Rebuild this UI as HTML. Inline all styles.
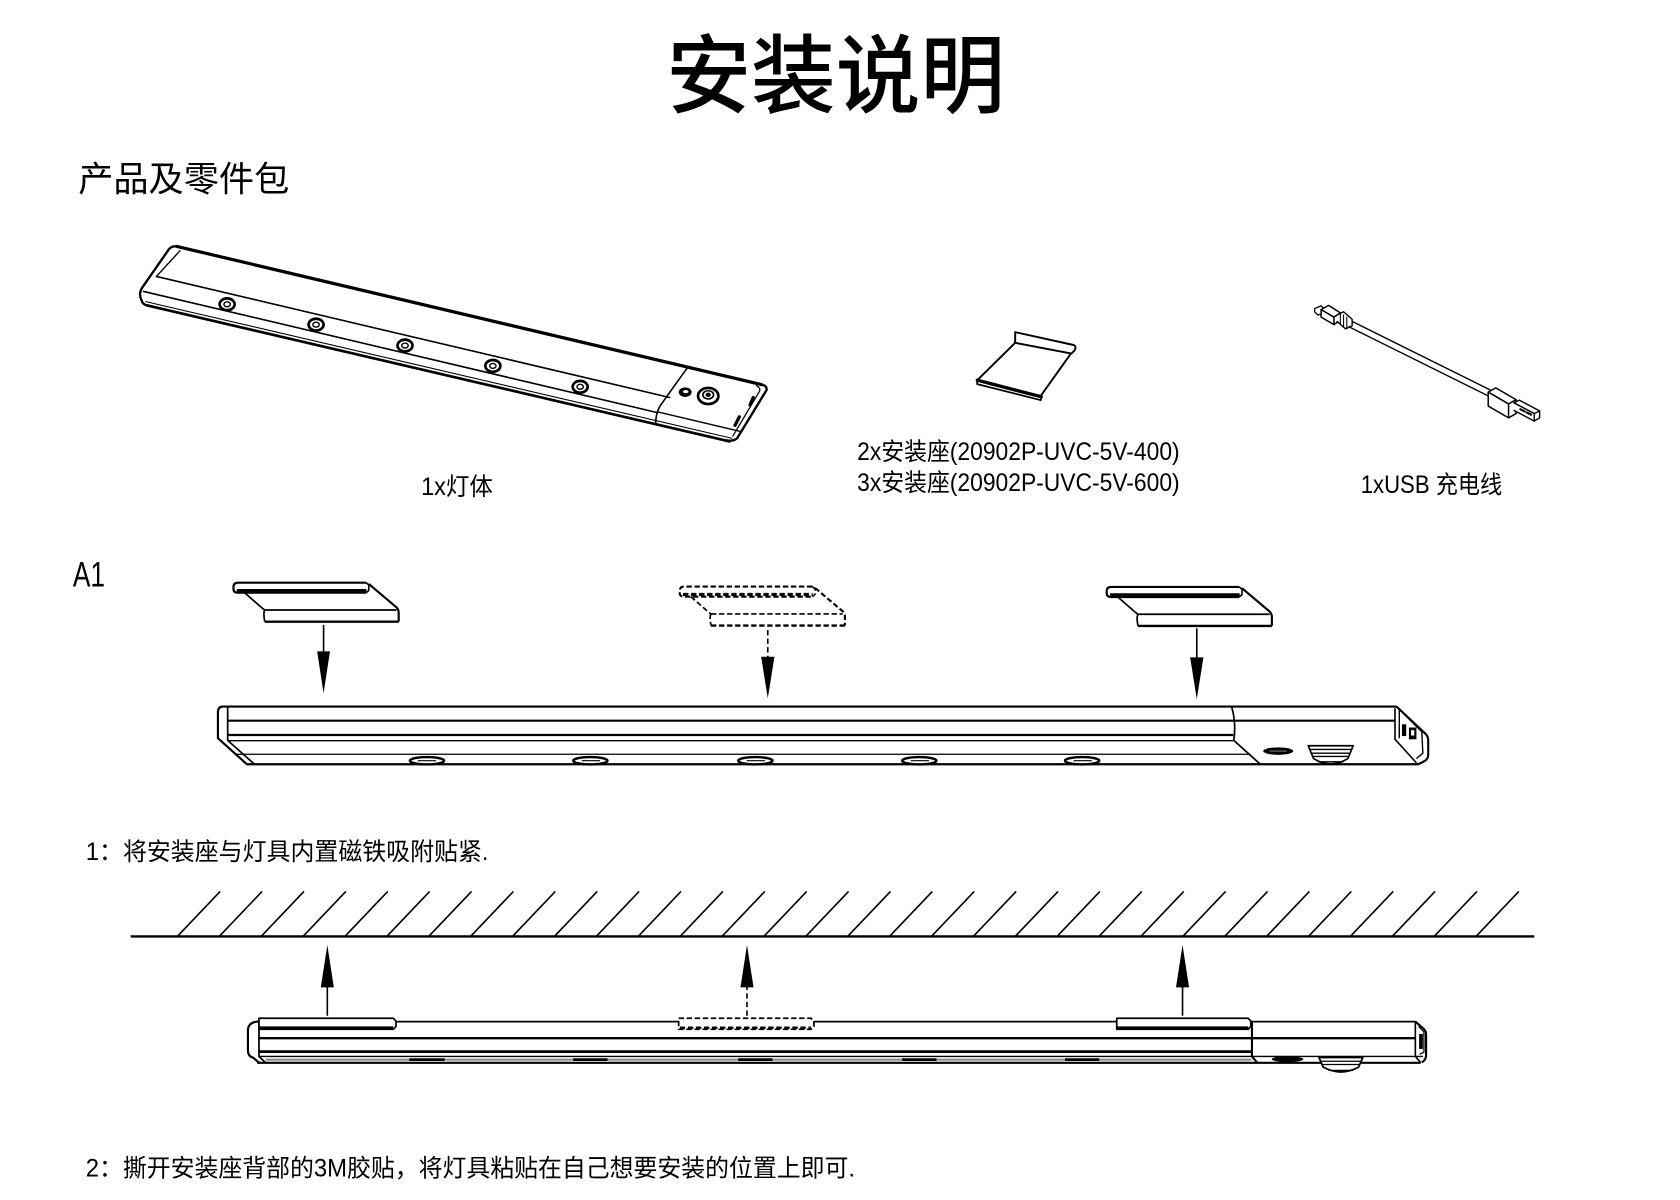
<!DOCTYPE html>
<html><head><meta charset="utf-8"><style>
html,body{margin:0;padding:0;background:#fff;}
svg{display:block;}
text{font-family:"Liberation Sans","Noto Sans CJK SC",sans-serif;fill:#000;}
</style></head><body>
<svg width="1680" height="1200" viewBox="0 0 1568 1120" xmlns="http://www.w3.org/2000/svg">
<rect width="1568" height="1120" fill="#fff"/>

<!-- Titles -->
<text x="622" y="99" font-size="80" font-weight="500" textLength="316" lengthAdjust="spacingAndGlyphs">安装说明</text>
<text x="73" y="178.5" font-size="33" textLength="197" lengthAdjust="spacingAndGlyphs">产品及零件包</text>

<g fill="none" stroke="#000" stroke-linecap="round" stroke-linejoin="round">
<!-- Product bar (diagonal) -->
<path d="M165,230 L711,359" stroke-width="3"/>
<path d="M165,230 Q159,229 156,235 L133,268 Q129,274 132,280 Q133,284 137,285" stroke-width="2.2"/>
<path d="M168,234 L146,258" stroke-width="1.3"/>
<path d="M137,285 L681,412" stroke-width="2.5"/>
<path d="M136,281.5 L683,409" stroke-width="1"/>
<path d="M711,359 Q716,360 715.5,364 L688,409 Q685,412 679,411" stroke-width="2.2"/>
<path d="M706,360 Q710,362 709,365 L684,407" stroke-width="1.2"/>
<path d="M146,258 L625,371" stroke-width="1.5"/>
<path d="M134,272 L613,385" stroke-width="1.5"/>
<path d="M641,344 Q628,362 616,379 Q612,386 612,395" stroke-width="1.5"/>
<path d="M614,384.5 L691,402.7" stroke-width="1.3"/>
<g stroke-width="2.5">
<ellipse cx="212" cy="284" rx="7" ry="5.5"/>
<ellipse cx="295" cy="303" rx="7" ry="5.5"/>
<ellipse cx="378" cy="322.5" rx="7" ry="5.5"/>
<ellipse cx="460" cy="341.5" rx="7" ry="5.5"/>
<ellipse cx="541.5" cy="361" rx="7" ry="5.5"/>
</g>
<g stroke-width="1.3">
<ellipse cx="212" cy="284" rx="3" ry="2.3"/>
<ellipse cx="295" cy="303" rx="3" ry="2.3"/>
<ellipse cx="378" cy="322.5" rx="3" ry="2.3"/>
<ellipse cx="460" cy="341.5" rx="3" ry="2.3"/>
<ellipse cx="541.5" cy="361" rx="3" ry="2.3"/>
</g>
<ellipse cx="639.5" cy="366" rx="5.5" ry="4" fill="#000"/>
<ellipse cx="640" cy="365.5" rx="2.5" ry="1.5" fill="#fff" stroke="none"/>
<ellipse cx="661" cy="369.6" rx="9.5" ry="7.5" stroke-width="2.5"/>
<ellipse cx="661" cy="368.5" rx="5" ry="3.8" stroke-width="1.5"/>
<ellipse cx="661" cy="368.5" rx="2" ry="1.5" fill="#000"/>
<path d="M703,371 L700,378" stroke-width="3"/>
<path d="M690,389 L686,397" stroke-width="3"/>

<!-- Mounting bracket product -->
<path d="M947.5,310 L1002,322 Q1005,323 1003,327 L1000,330 L947.5,320 Z" stroke-width="1.8" fill="#fff"/>
<path d="M947.5,320 L912,355" stroke-width="1.8"/>
<path d="M999.5,330 L971,370" stroke-width="1.8"/>
<path d="M912,354 L972,369.5 L971.5,373.5 L912,358.5 Z" stroke-width="1.6" fill="#fff"/>
<path d="M912,355 L972,370.5" stroke-width="2.8"/>

<!-- USB cable -->
<path d="M1227,288 L1233,285.5 L1236,288 L1236,292 L1230,294 L1227,291 Z" stroke-width="1.2" fill="#fff"/>
<path d="M1233,289 L1240,285 L1251,292 L1245,296 Z" stroke-width="1.4" fill="#fff"/>
<path d="M1233,289 L1245,296 L1245,303 L1233,296 Z" stroke-width="1.4" fill="#fff"/>
<path d="M1251,292 L1251,299 L1245,303" stroke-width="1.4"/>
<path d="M1248,294 L1254,291 L1262,298 L1262,304 L1256,307 L1248,300" stroke-width="1.3" fill="#fff"/>
<path d="M1251,293 L1251,302 M1254,294 L1254,304 M1257,296 L1257,306" stroke-width="1"/>
<path d="M1262,300 L1391,364" stroke-width="1.3"/>
<path d="M1259,305 L1389,369.5" stroke-width="1.3"/>
<path d="M1389,366 L1396,362 L1415,373 L1408,377 Z" stroke-width="1.4" fill="#fff"/>
<path d="M1389,366 L1408,377 L1408,390 L1389,379 Z" stroke-width="1.4" fill="#fff"/>
<path d="M1415,373 L1415,386 L1408,390" stroke-width="1.4"/>
<path d="M1413,376 L1418,373.5 L1437,383.5 L1432,386 Z" stroke-width="1.3" fill="#fff"/>
<path d="M1413,376 L1432,386 L1432,393 L1413,383" stroke-width="1.3" fill="#fff"/>
<path d="M1437,383.5 L1437,390 L1432,393" stroke-width="1.3"/>
<path d="M1419,382 L1423,384 M1425,385 L1429,387" stroke-width="2"/>
</g>

<text x="393" y="462" font-size="23" textLength="67" lengthAdjust="spacingAndGlyphs">1x灯体</text>
<text x="800" y="429.5" font-size="23" textLength="301" lengthAdjust="spacingAndGlyphs">2x安装座(20902P-UVC-5V-400)</text>
<text x="800" y="458.5" font-size="23" textLength="301" lengthAdjust="spacingAndGlyphs">3x安装座(20902P-UVC-5V-600)</text>
<text x="1270" y="460" font-size="23" textLength="132" lengthAdjust="spacingAndGlyphs">1xUSB 充电线</text>

<text x="68" y="547.5" font-size="33" textLength="30" lengthAdjust="spacingAndGlyphs">A1</text>

<!-- A1 diagram -->
<defs>
<g id="brk">
<path d="M341.7,543.8 L222,543.8 Q217.9,543.8 217.9,548 L217.9,549.5 Q217.9,553.2 222,553.2 L341.7,553.2" stroke-width="2"/>
<path d="M221,551.2 L342,551.2" stroke-width="3"/>
<path d="M341.7,543.8 L344.2,546 L344.2,551 L341.7,553.2" stroke-width="1.5"/>
<path d="M344.2,545 L370,566.8 Q372.1,569 372.1,572 L372.1,580.2" stroke-width="2"/>
<path d="M247.1,569.3 L370,569.3" stroke-width="1.6"/>
<path d="M247.1,580.2 L372.1,580.2" stroke-width="2.2"/>
<path d="M247.1,569.3 Q245.5,572 247.1,580.2" stroke-width="1.6"/>
<path d="M228.3,553.2 L245,567.8 Q247,569 247.1,570" stroke-width="1.6"/>
</g>
</defs>
<g fill="none" stroke="#000" stroke-linecap="butt" stroke-linejoin="round">
<use href="#brk"/>
<use href="#brk" transform="translate(815,4)"/>
<use href="#brk" transform="translate(416.5,3.7)" stroke-dasharray="5,2.5"/>

<!-- arrows A1 -->
<path d="M302,583.3 L302,610" stroke-width="1.5"/>
<path d="M296,608 L308,608 L302,647 Z" fill="#000" stroke="none"/>
<path d="M716.6,588 L716.6,614" stroke-width="1.5" stroke-dasharray="5,3"/>
<path d="M710.4,613 L722.8,613 L716.6,651.7 Z" fill="#000" stroke="none"/>
<path d="M1117,586.4 L1117,615" stroke-width="1.5"/>
<path d="M1110.8,613.5 L1123.2,613.5 L1117,652.5 Z" fill="#000" stroke="none"/>

<!-- bar A1 -->
<path d="M207,659.5 L1303.5,659.5" stroke-width="2"/>
<path d="M208,659.5 Q203.4,659.5 203.4,665 L203.4,689 L230.4,713.3" stroke-width="2"/>
<path d="M212.5,659.5 L212.5,691 L237.5,713.3" stroke-width="1.6"/>
<path d="M230,713.3 L1324,713.3" stroke-width="2"/>
<path d="M212.5,672.6 L1302,672.6" stroke-width="2"/>
<path d="M212.5,686 L1151,686" stroke-width="2"/>
<path d="M212.5,691.3 L1151,691.3" stroke-width="1.2"/>
<path d="M220,704 L1167,704" stroke-width="1.2"/>
<path d="M1149.5,659.5 Q1154,675 1151.5,691 L1176,713" stroke-width="1.6"/>
<path d="M1303.5,659.5 L1330,684.4 Q1333,687 1333,691 L1333,704.7 Q1333,709 1328.3,711 L1323.7,713.3" stroke-width="2"/>
<path d="M1302,661 L1302,690 L1322,712" stroke-width="1.5"/>
<path d="M1306,662 L1306,689" stroke-width="1.3"/>
<path d="M1306,662 L1327,683 L1328,703 L1322,708" stroke-width="1.3"/>
<rect x="1308.5" y="676" width="4" height="11" fill="#000" stroke="none"/>
<rect x="1315" y="679" width="7" height="11" fill="#000" stroke="none"/>
<rect x="1317" y="681.5" width="3" height="5" fill="#fff" stroke="none"/>
<!-- LED bumps -->
<g stroke-width="2.3" fill="#fff">
<ellipse cx="398.5" cy="710" rx="16" ry="3.4"/>
<ellipse cx="551" cy="710" rx="16" ry="3.4"/>
<ellipse cx="705" cy="710" rx="16" ry="3.4"/>
<ellipse cx="858" cy="710" rx="16" ry="3.4"/>
<ellipse cx="1010" cy="710" rx="16" ry="3.4"/>
</g>
<g stroke-width="1" >
<path d="M390,710 L407,710 M543,710 L560,710 M697,710 L714,710 M850,710 L867,710 M1002,710 L1019,710"/>
</g>
<ellipse cx="1193" cy="701" rx="14" ry="3.5" fill="#000" stroke="none"/>
<path d="M1185,701 L1201,701" stroke="#777" stroke-width="1"/>
<path d="M1221,696 L1263,696 L1258,708 Q1242,718 1226,708 Z" stroke-width="1.6" fill="#fff"/>
<path d="M1222.5,699.5 L1261.5,699.5 M1224,703 L1260,703 M1225.5,706 L1258.5,706 M1230,711 L1254,711" stroke-width="1.3"/>
</g>

<text x="80" y="802.5" font-size="23" textLength="376" lengthAdjust="spacingAndGlyphs">1：将安装座与灯具内置磁铁吸附贴紧.</text>

<!-- Ceiling hatch -->
<g stroke="#000" fill="none">
<path d="M122,874 L1432,874" stroke-width="2.2"/>
<path stroke-width="1.5" d="M165.5,874 l40,-42 M204.6,874 l40,-42 M243.7,874 l40,-42 M282.8,874 l40,-42 M321.9,874 l40,-42 M361,874 l40,-42 M400.1,874 l40,-42 M439.2,874 l40,-42 M478.3,874 l40,-42 M517.4,874 l40,-42 M556.5,874 l40,-42 M595.6,874 l40,-42 M634.7,874 l40,-42 M673.8,874 l40,-42 M712.9,874 l40,-42 M752,874 l40,-42 M791.1,874 l40,-42 M830.2,874 l40,-42 M869.3,874 l40,-42 M908.4,874 l40,-42 M947.5,874 l40,-42 M986.6,874 l40,-42 M1025.7,874 l40,-42 M1064.8,874 l40,-42 M1103.9,874 l40,-42 M1143,874 l40,-42 M1182.1,874 l40,-42 M1221.2,874 l40,-42 M1260.3,874 l40,-42 M1299.4,874 l40,-42 M1338.5,874 l40,-42 M1377.6,874 l40,-42"/>
</g>

<!-- Second diagram -->
<g fill="none" stroke="#000" stroke-linejoin="round">
<!-- arrows up -->
<path d="M305.5,948 L305.5,920" stroke-width="1.5"/>
<path d="M299.4,921.5 L311.6,921.5 L305.5,882 Z" fill="#000" stroke="none"/>
<path d="M697.2,948 L697.2,920" stroke-width="1.5" stroke-dasharray="5,3"/>
<path d="M691.1,921.5 L703.3,921.5 L697.2,882 Z" fill="#000" stroke="none"/>
<path d="M1103.7,948 L1103.7,920" stroke-width="1.5"/>
<path d="M1097.6,921.5 L1109.8,921.5 L1103.7,882 Z" fill="#000" stroke="none"/>

<path d="M241.7,953.5 L1321,953.5" stroke-width="1.6"/>
<path d="M241.7,953.5 Q231.4,953.5 231.4,962 L231.4,980 Q231.4,986 236,987 L242,992" stroke-width="2"/>
<path d="M241.7,953.5 L241.7,986 L248,992" stroke-width="1.6"/>
<path d="M240,992 L1326,992" stroke-width="2"/>
<path d="M241.7,969 L1321,969" stroke-width="2.2"/>
<path d="M241.7,981.5 L1168,981.5" stroke-width="2.6"/>
<path d="M241.7,986 L1328,986" stroke-width="1.2"/>
<path d="M248,989 L1168,989" stroke="#8a8a8a" stroke-width="2"/>
<path d="M382,989 L415,989 M535,989 L567,989 M689,989 L721,989 M842,989 L874,989 M994,989 L1026,989" stroke-width="2.6"/>
<path d="M1168.5,953.5 L1168.5,986 L1173.5,992" stroke-width="2"/>
<path d="M1321,953.5 L1328.5,960 Q1331,962 1331,965 L1331,985 Q1331,989 1327,991.7" stroke-width="2"/>
<path d="M1321,953.5 L1321,986 L1326,991.7" stroke-width="1.5"/>
<path d="M1324,958 L1329,963 L1329,982 L1325,984" stroke-width="1.2"/>
<rect x="1324.5" y="965" width="3.5" height="14" fill="#000" stroke="none"/>

<!-- brackets on top -->
<path d="M241.7,950.4 L367,950.4 L369.6,953 L369.6,958 L367,960.7 L241.7,960.7 Z" stroke-width="1.6" fill="#fff"/>
<path d="M242.5,959.3 L367,959.3" stroke-width="2.6"/>
<path d="M1042.3,950.4 L1165,950.4 L1167.4,953 L1167.4,958 L1165,960.7 L1042.3,960.7 Z" stroke-width="1.6" fill="#fff"/>
<path d="M1043,959.3 L1165,959.3" stroke-width="2.6"/>
<path d="M633.4,950.4 L757,950.4 L759.6,953 L759.6,958 L757,960.7 L633.4,960.7 Z" stroke-width="1.6" fill="#fff" stroke-dasharray="5,2.5"/>
<path d="M634.5,959.3 L757,959.3" stroke-width="2.4" stroke-dasharray="5,2.5"/>

<!-- sensor & lens -->
<ellipse cx="1201.7" cy="988.5" rx="14.7" ry="2.8" fill="#000" stroke="none"/>
<path d="M1231,987 L1272,987 L1268,996 Q1251.5,1005 1235,996 Z" stroke-width="1.6" fill="#fff"/>
<path d="M1232.5,990.5 L1270.5,990.5 M1234,993.5 L1269,993.5 M1240,999 L1263,999" stroke-width="1.2"/>
</g>

<text x="80" y="1098" font-size="23" textLength="718" lengthAdjust="spacingAndGlyphs">2：撕开安装座背部的3M胶贴，将灯具粘贴在自己想要安装的位置上即可.</text>
</svg>
</body></html>
